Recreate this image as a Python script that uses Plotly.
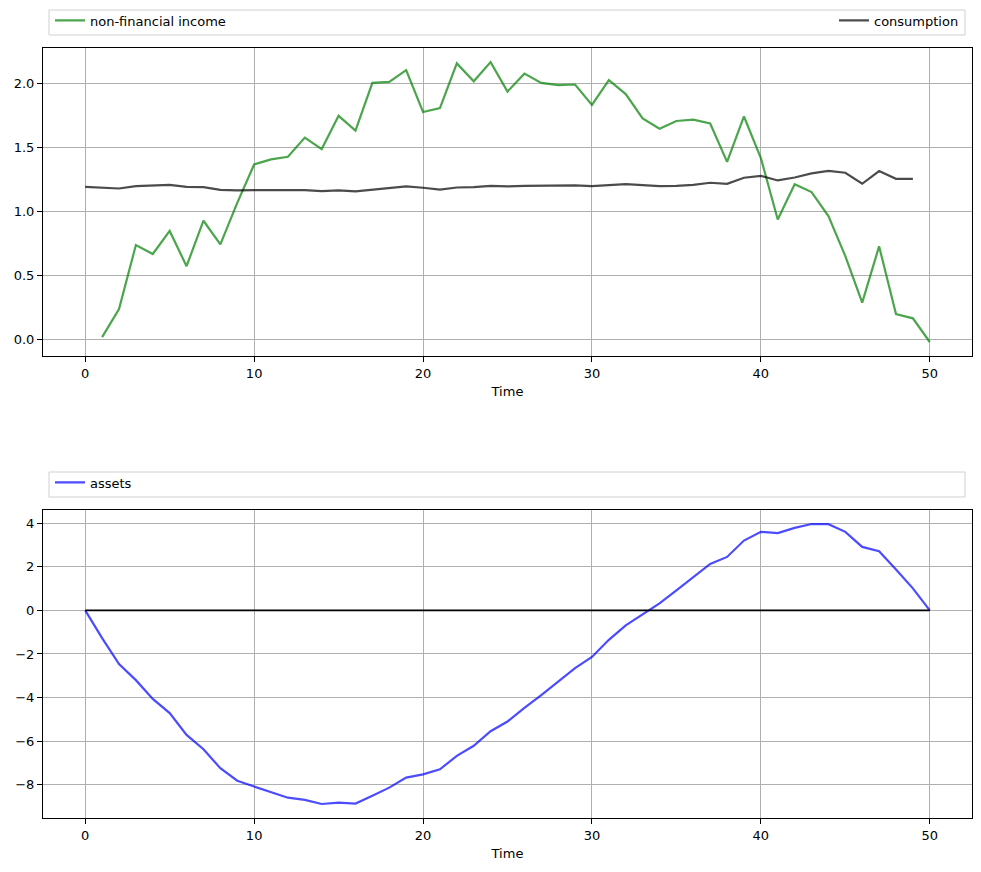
import plotly.graph_objects as go
from plotly.subplots import make_subplots

# ---- data ----
time = list(range(51))

income_time = list(range(1, 51))
income = [0.02, 0.24, 0.74, 0.67, 0.85, 0.575, 0.93, 0.745, 1.07, 1.37,
          1.41, 1.43, 1.58, 1.49, 1.75, 1.635, 2.008, 2.016, 2.107, 1.78,
          1.81, 2.16, 2.02, 2.17, 1.94, 2.08, 2.008, 1.99, 1.995, 1.836,
          2.03, 1.92, 1.73, 1.65, 1.71, 1.72, 1.69, 1.39, 1.745, 1.42,
          0.94, 1.216, 1.154, 0.966, 0.654, 0.29, 0.73, 0.20, 0.167, -0.018]

cons_time = list(range(50))
consumption = [1.195, 1.188, 1.182, 1.200, 1.206, 1.211, 1.195, 1.193, 1.172, 1.167,
               1.169, 1.169, 1.168, 1.169, 1.161, 1.167, 1.159, 1.172, 1.180, 1.198,
               1.188, 1.174, 1.190, 1.193, 1.203, 1.198, 1.203, 1.203, 1.203, 1.206,
               1.200, 1.210, 1.216, 1.208, 1.200, 1.203, 1.211, 1.227, 1.219, 1.266,
               1.281, 1.245, 1.268, 1.300, 1.320, 1.305, 1.219, 1.318, 1.258, 1.258]

assets = [0.0, -1.27, -2.46, -3.20, -4.06, -4.71, -5.71, -6.37, -7.24, -7.81,
          -8.08, -8.34, -8.59, -8.69, -8.88, -8.82, -8.86, -8.50, -8.13, -7.67,
          -7.52, -7.29, -6.67, -6.21, -5.54, -5.10, -4.47, -3.89, -3.28, -2.65,
          -2.14, -1.35, -0.69, -0.18, 0.32, 0.92, 1.53, 2.13, 2.45, 3.20,
          3.60, 3.54, 3.78, 3.96, 3.95, 3.60, 2.91, 2.71, 1.87, 1.01, 0.0]

zero_line = [0.0] * len(time)

x_ticks = [0, 10, 20, 30, 40, 50]
top_yticks = [0.0, 0.5, 1.0, 1.5, 2.0]
bot_yticks = [-8, -6, -4, -2, 0, 2, 4]

# ---- figure ----
W, H = 981, 872
ML, MR = 43, 9
fig = make_subplots(rows=2, cols=1)

fig.add_trace(go.Scatter(x=income_time, y=income, mode="lines", name="non-financial income",
                         line=dict(color="green", width=2.2), opacity=0.7, legend="legend"),
              row=1, col=1)
fig.add_trace(go.Scatter(x=cons_time, y=consumption, mode="lines", name="consumption",
                         line=dict(color="black", width=2.2), opacity=0.7, legend="legend2"),
              row=1, col=1)
fig.add_trace(go.Scatter(x=time, y=assets, mode="lines", name="assets",
                         line=dict(color="blue", width=2.2), opacity=0.7, legend="legend3"),
              row=2, col=1)
fig.add_trace(go.Scatter(x=time, y=zero_line, mode="lines", showlegend=False,
                         line=dict(color="black", width=1.6)),
              row=2, col=1)

def py(p):
    return 1 - p / H

def px(p):
    return (p - ML) / (W - ML - MR)

top_dom = [py(356), py(48)]
bot_dom = [py(818), py(510)]

axis_common = dict(showline=True, linecolor="black", linewidth=1, mirror=True,
                   showgrid=True, gridcolor="#b0b0b0", gridwidth=0.8,
                   ticks="outside", ticklen=5, tickcolor="black", tickwidth=1,
                   zeroline=False, automargin=False,
                   tickfont=dict(family="DejaVu Sans", size=13, color="black"))

fig.update_xaxes(**axis_common, range=[-2.5, 52.5], tickvals=x_ticks,
                 title=dict(text="Time", font=dict(family="DejaVu Sans", size=13, color="black"),
                            standoff=7))
fig.update_yaxes(**axis_common)
fig.update_yaxes(domain=top_dom, range=[-0.1275, 2.2805], tickvals=top_yticks,
                 tickformat=".1f", row=1, col=1)
fig.update_yaxes(domain=bot_dom, range=[-9.522, 4.602], tickvals=bot_yticks,
                 row=2, col=1)
fig.update_xaxes(anchor="y", row=1, col=1)
fig.update_xaxes(anchor="y2", row=2, col=1)

legend_font = dict(family="DejaVu Sans", size=13, color="black")
fig.update_layout(
    width=W, height=H,
    margin=dict(l=ML, r=MR, t=0, b=0),
    paper_bgcolor="white", plot_bgcolor="white",
    legend=dict(x=px(50), y=py(20.5), xanchor="left", yanchor="middle",
                bgcolor="rgba(0,0,0,0)", font=legend_font, itemwidth=30),
    legend2=dict(x=px(964), y=py(20.5), xanchor="right", yanchor="middle",
                 bgcolor="rgba(0,0,0,0)", font=legend_font, itemwidth=30),
    legend3=dict(x=px(50), y=py(482.5), xanchor="left", yanchor="middle",
                 bgcolor="rgba(0,0,0,0)", font=legend_font, itemwidth=30),
    shapes=[
        dict(type="rect", xref="paper", yref="paper", x0=px(49), x1=px(965),
             y0=py(35), y1=py(10), line=dict(color="#d0d0d0", width=1), layer="above"),
        dict(type="rect", xref="paper", yref="paper", x0=px(49), x1=px(965),
             y0=py(497), y1=py(472), line=dict(color="#d0d0d0", width=1), layer="above"),
    ],
)

fig.write_html("out.html")
